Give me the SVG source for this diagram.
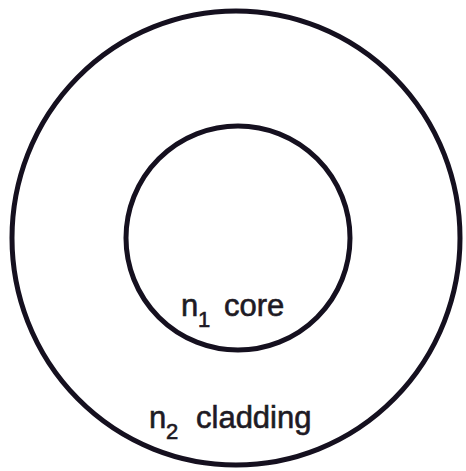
<svg xmlns="http://www.w3.org/2000/svg" width="466" height="471" viewBox="0 0 466 471">
<style>
.ring{fill:none;stroke:#15101f;stroke-width:5}
.lbl{font-family:"Liberation Sans",Arial,sans-serif;font-size:31px;fill:#1e1a24;stroke:#1e1a24;stroke-width:0.6}
.sub{font-size:22px}
</style>
<rect width="466" height="471" fill="#ffffff"/>
<g id="cladding">
<ellipse class="ring" cx="236" cy="238" rx="224" ry="227"/>
<text class="lbl"><tspan x="149" y="428">n</tspan><tspan class="sub" x="166" y="439">2</tspan><tspan x="196" y="428">cladding</tspan></text>
</g>
<g id="core">
<circle class="ring" cx="238" cy="238" r="112"/>
<text class="lbl"><tspan x="181" y="316">n</tspan><tspan class="sub" x="198" y="327">1</tspan><tspan x="224" y="316">core</tspan></text>
</g>
<g id="connectors"></g>
</svg>
